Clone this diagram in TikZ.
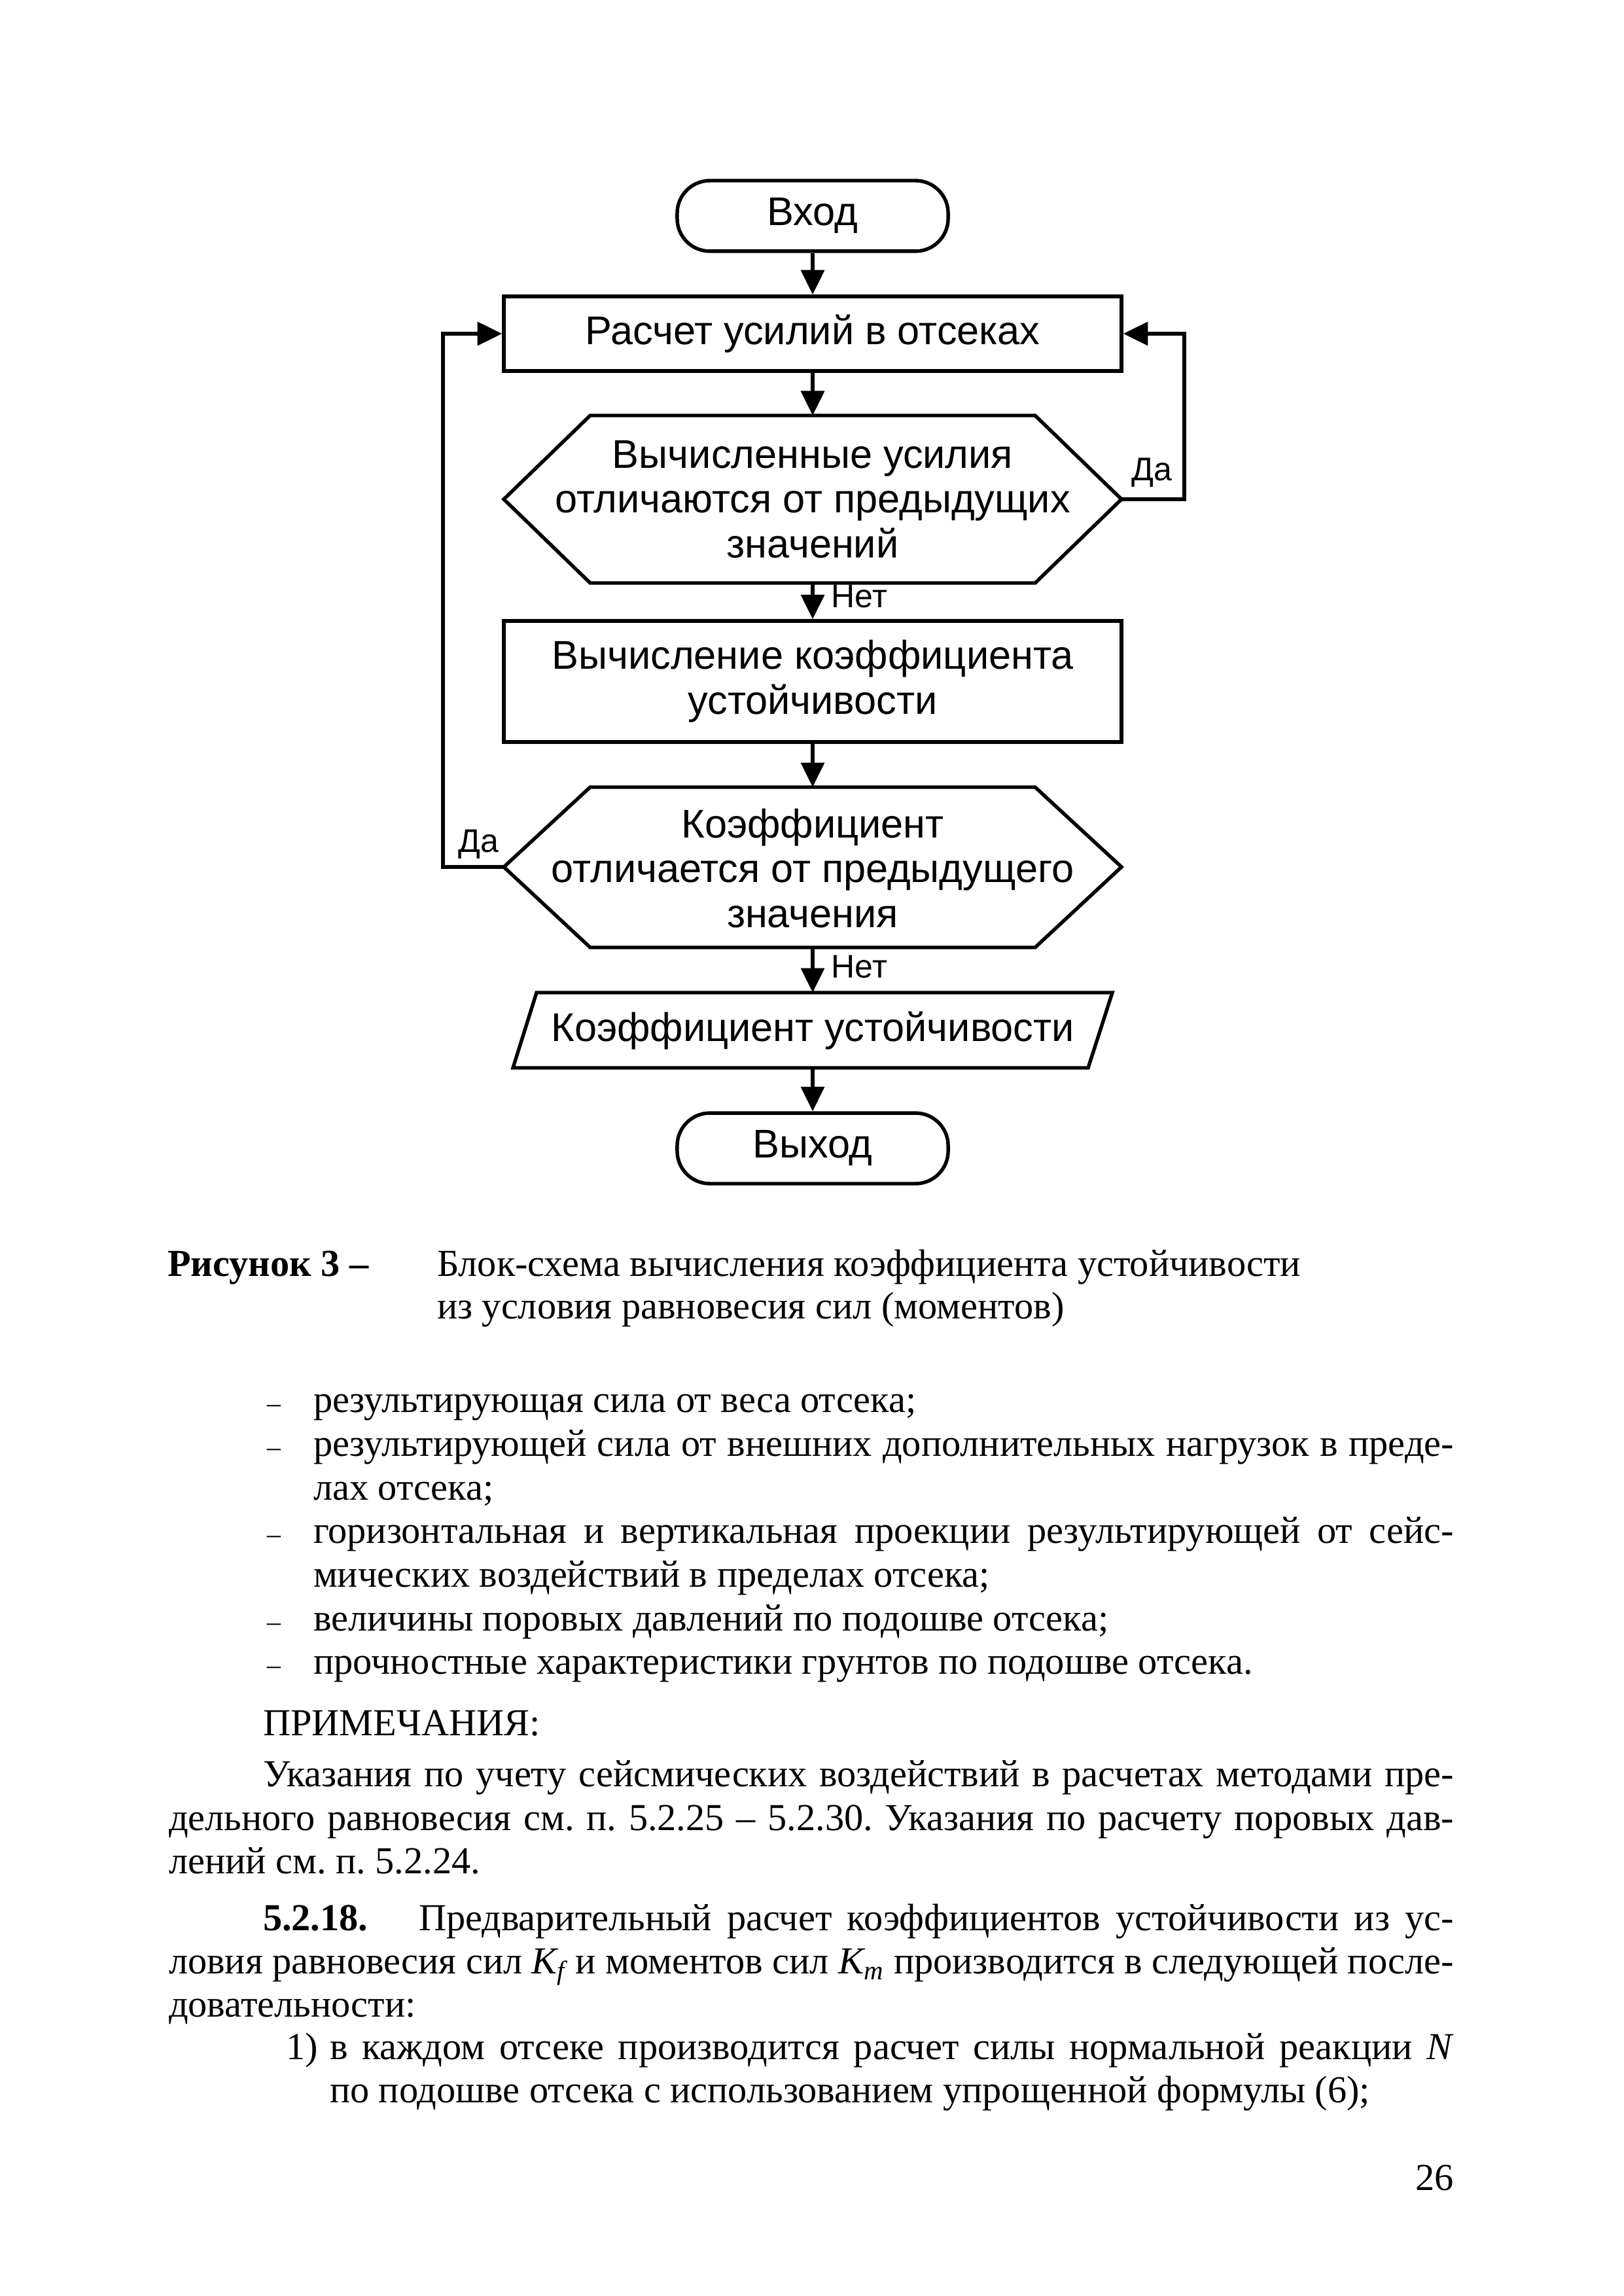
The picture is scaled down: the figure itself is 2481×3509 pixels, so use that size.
\documentclass[tikz,border=0pt]{standalone}
\usepackage{fontspec}
\setmainfont{Liberation Serif}
\newfontfamily\flowfont{Liberation Sans}
\usetikzlibrary{arrows.meta}
\frenchspacing
\newlength\myjw
\newcommand\jline[5]{%
  \pgfmathsetlength\myjw{(#4-#2)*0.24pt}%
  \node[txt] (#1) at (#2,#3) {\hbox to \myjw{#5}};}
\newcommand\pline[4]{\node[txt] (#1) at (#2,#3) {#4};}
\tikzset{
  txt/.style={inner sep=0pt, outer sep=0pt, anchor=base west, font=\fontsize{14}{16}\selectfont\frenchspacing},
  flow/.style={font=\flowfont\fontsize{14.7}{16.5}\selectfont, align=center, inner sep=0pt},
  lbl/.style={font=\flowfont\fontsize{12}{14}\selectfont, inner sep=0pt},
  shp/.style={draw, line width=1.3pt},
  term/.style={shp, rounded corners=12pt, minimum width=99.4pt, minimum height=25.9pt, inner sep=0pt, font=\flowfont\fontsize{14.7}{16.5}\selectfont},
  procbox/.style={shp, inner sep=0pt, minimum width=226.6pt, font=\flowfont\fontsize{14.7}{16.5}\selectfont, align=center},
  arr/.style={line width=1.3pt, -{Triangle[length=9pt, width=8.5pt]}},
  con/.style={line width=1.3pt}
}
\begin{document}
\begin{tikzpicture}[x=0.24pt, y=-0.24pt]
\fill[white] (0,0) rectangle (2481,3509);
\useasboundingbox (0,0) rectangle (2481,3509);

% ---------- flowchart ----------
\node[term] (vhod) at (1242,330) {Вход};
\node[procbox, minimum height=27.4pt] (b1) at (1242,510) {Расчет усилий в отсеках};

\coordinate (d1W) at (770,763);
\coordinate (d1NW) at (902,635);
\coordinate (d1N) at (1242,635);
\coordinate (d1NE) at (1582,635);
\coordinate (d1E) at (1714,763);
\coordinate (d1SE) at (1582,891);
\coordinate (d1S) at (1242,891);
\coordinate (d1SW) at (902,891);
\draw[shp, line join=miter] (d1W) -- (d1NW) -- (d1NE) -- (d1E) -- (d1SE) -- (d1SW) -- cycle;
\node[flow] (d1) at (1242,763) {Вычисленные усилия\\отличаются от предыдущих\\значений};

\node[procbox, minimum height=44.4pt] (b2) at (1242,1041.5) {Вычисление коэффициента\\устойчивости};

\coordinate (d2W) at (770,1325);
\coordinate (d2NW) at (902,1203);
\coordinate (d2N) at (1242,1203);
\coordinate (d2NE) at (1582,1203);
\coordinate (d2E) at (1714,1325);
\coordinate (d2SE) at (1582,1448);
\coordinate (d2S) at (1242,1448);
\coordinate (d2SW) at (902,1448);
\draw[shp, line join=miter] (d2W) -- (d2NW) -- (d2NE) -- (d2E) -- (d2SE) -- (d2SW) -- cycle;
\node[flow] (d2) at (1242,1327) {Коэффициент\\отличается от предыдущего\\значения};

\coordinate (pNW) at (820,1517);
\coordinate (pN) at (1242,1517);
\coordinate (pNE) at (1700,1517);
\coordinate (pSE) at (1663,1632);
\coordinate (pS) at (1242,1632);
\coordinate (pSW) at (784,1632);
\draw[shp] (pNW) -- (pNE) -- (pSE) -- (pSW) -- cycle;
\node[flow] (par) at (1242,1575) {Коэффициент устойчивости};

\node[term] (vyhod) at (1242,1755) {Выход};

% connectors
\draw[arr] (vhod.south) -- (b1.north);
\draw[arr] (b1.south) -- (d1N);
\draw[arr] (d1S) -- (b2.north);
\draw[arr] (b2.south) -- (d2N);
\draw[arr] (d2S) -- (pN);
\draw[arr] (pS) -- (vyhod.north);
\coordinate (rloop) at (1810,510);
\coordinate (lloop) at (677,510);
\draw[arr] (d1E) -| (rloop) -- (b1.east);
\draw[arr] (d2W) -| (lloop) -- (b1.west);

\node[lbl, anchor=west] (net1) at (1270,912) {Нет};
\node[lbl, anchor=west] (net2) at (1270,1478) {Нет};
\node[lbl] (da1) at (1760,722) {Да};
\node[lbl] (da2) at (731,1290) {Да};

% ---------- caption ----------
\pline{cap1}{256}{1950}{\textbf{Рисунок 3 –}}
\pline{cap2}{668}{1950}{Блок-схема вычисления коэффициента устойчивости}
\pline{cap3}{668}{2015}{из условия равновесия сил (моментов)}

% ---------- bullets ----------
\node[txt, font=\fontsize{10}{12}\selectfont] (bd1) at (408,2158) {–};
\node[txt, font=\fontsize{10}{12}\selectfont] (bd2) at (408,2225) {–};
\node[txt, font=\fontsize{10}{12}\selectfont] (bd3) at (408,2358) {–};
\node[txt, font=\fontsize{10}{12}\selectfont] (bd4) at (408,2492) {–};
\node[txt, font=\fontsize{10}{12}\selectfont] (bd5) at (408,2558) {–};
\pline{l1}{479}{2158}{результирующая сила от веса отсека;}
\jline{l2}{479}{2225}{2222}{результирующей сила от внешних дополнительных нагрузок в преде-}
\pline{l3}{479}{2292}{лах отсека;}
\jline{l4}{479}{2358}{2222}{горизонтальная и вертикальная проекции результирующей от сейс-}
\pline{l5}{479}{2425}{мических воздействий в пределах отсека;}
\pline{l6}{479}{2492}{величины поровых давлений по подошве отсека;}
\pline{l7}{479}{2558}{прочностные характеристики грунтов по подошве отсека.}

% ---------- notes ----------
\pline{n0}{402}{2652}{ПРИМЕЧАНИЯ:}
\jline{n1}{402}{2730}{2222}{Указания по учету сейсмических воздействий в расчетах методами пре-}
\jline{n2}{258}{2797}{2222}{дельного равновесия см. п. 5.2.25 – 5.2.30. Указания по расчету поровых дав-}
\pline{n3}{258}{2863}{лений см. п. 5.2.24.}

\pline{p0}{402}{2950}{\textbf{5.2.18.}}
\jline{p1}{640}{2950}{2222}{Предварительный расчет коэффициентов устойчивости из ус-}
\jline{p2}{258}{3016}{2222}{ловия равновесия сил \textit{K\textsubscript{f}} и моментов сил \textit{K\textsubscript{m}} производится в следующей после-}
\pline{p3}{258}{3082}{довательности:}
\pline{q0}{437}{3147}{1)}
\jline{q1}{504}{3147}{2222}{в каждом отсеке производится расчет силы нормальной реакции \textit{N}}
\pline{q2}{504}{3213}{по подошве отсека с использованием упрощенной формулы (6);}

\node[txt, anchor=base east] (pg) at (2222,3347) {26};
\end{tikzpicture}
\end{document}
